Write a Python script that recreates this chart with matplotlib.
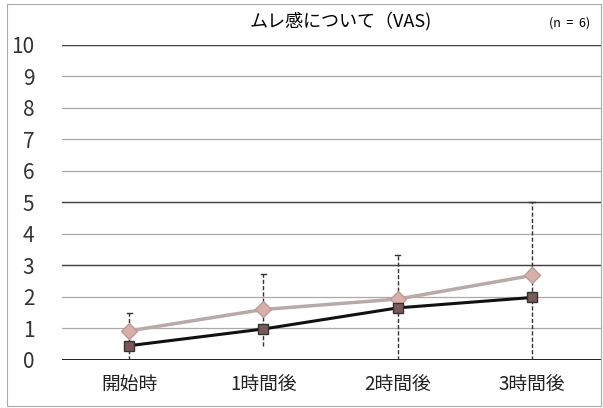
import matplotlib
import matplotlib.pyplot as plt
from matplotlib.patches import Rectangle

matplotlib.use("Agg")

plt.rcParams["font.family"] = ["Noto Sans CJK JP", "DejaVu Sans"]

categories = ["開始時", "1時間後", "2時間後", "3時間後"]
series_gray = [0.92, 1.6, 1.93, 2.68]
series_black = [0.45, 0.98, 1.65, 1.98]
err_low = [0.0, 0.45, 0.0, 0.0]
err_high = [1.5, 2.72, 3.32, 5.0]
yticks = list(range(0, 11))


def build_plot():
    fig = plt.figure(figsize=(6.03, 4.08), dpi=100)
    ax = fig.add_axes([0.103, 0.118, 0.895, 0.772])
    x = list(range(len(categories)))

    for xi, lo, hi in zip(x, err_low, err_high):
        ax.plot([xi, xi], [lo, hi], color="#333333", linewidth=1.0,
                linestyle=(0, (3, 1.5)), zorder=2)
        ax.plot([xi - 0.02, xi + 0.02], [hi, hi], color="#333333", linewidth=1.0, zorder=2)

    ax.plot(x, series_gray, color="#b9a9a9", linewidth=2.5, marker="D",
            markersize=8, markerfacecolor="#d8b0a8", markeredgecolor="#b89a96", zorder=3)
    ax.plot(x, series_black, color="#111111", linewidth=2.2, marker="s",
            markersize=7, markerfacecolor="#7a5a58", markeredgecolor="#333333", zorder=4)

    ax.set_xlim(-0.5, 3.52)
    ax.set_ylim(0, 10)
    ax.set_yticks(yticks)
    ax.set_xticks(x)
    ax.set_xticklabels(categories, fontsize=13.5)
    ax.tick_params(axis="y", labelsize=15, length=0, pad=20, colors="#333333")
    ax.tick_params(axis="x", length=0, pad=10, colors="#222222")
    ax.grid(axis="y", color="#aaaaaa", linewidth=0.9)
    for v in (3, 5, 10):
        ax.axhline(v, color="#444444", linewidth=1.0, zorder=1)
    ax.axhline(0, color="#222222", linewidth=1.4, zorder=1)
    for side in ("top", "right", "left", "bottom"):
        ax.spines[side].set_visible(False)
    ax.set_axisbelow(True)

    fig.text(0.565, 0.948, "ムレ感について（VAS)", ha="center", va="center", fontsize=13)
    fig.text(0.945, 0.943, "(n  =  6)", ha="center", va="center", fontsize=9)
    fig.patches.append(Rectangle((0.012, 0.005), 0.985, 0.985, transform=fig.transFigure,
                                 fill=False, edgecolor="#aaaaaa", linewidth=0.8))
    fig.savefig("out.png", dpi=100)
    plt.close(fig)


build_plot()
